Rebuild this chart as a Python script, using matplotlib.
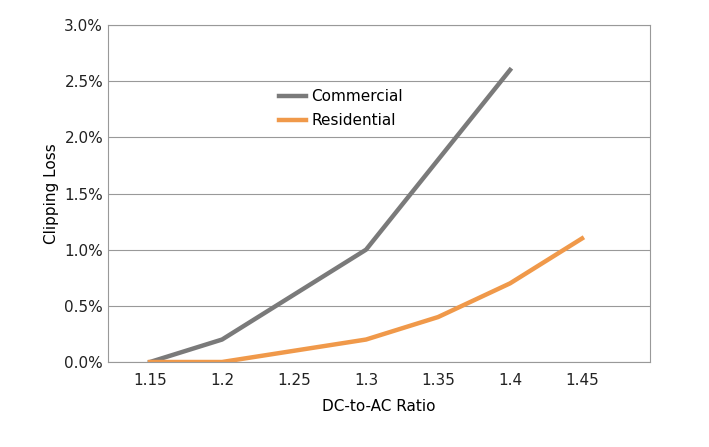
import matplotlib
matplotlib.use("Agg")
import matplotlib.pyplot as plt
from matplotlib.ticker import FuncFormatter

ratios = [1.15, 1.2, 1.25, 1.3, 1.35, 1.4, 1.45]
tick_labels = ["1.15", "1.2", "1.25", "1.3", "1.35", "1.4", "1.45"]
commercial = [0.0, 0.2, 0.6, 1.0, 1.8, 2.6]
residential = [0.0, 0.0, 0.1, 0.2, 0.4, 0.7, 1.1]

fig = plt.figure(figsize=(7.09, 4.47), dpi=100)
ax = fig.add_axes([108/709, 1-362/447, (650-108)/709, (362-25)/447])
ax.plot(ratios[:len(commercial)], commercial, color="#7a7a7a", lw=3.2, label="Commercial")
ax.plot(ratios, residential, color="#f0994a", lw=3.2, label="Residential")
ax.set_xlim(1.1208, 1.4972)
ax.set_ylim(0, 3.0)
ax.set_yticks([i*0.5 for i in range(7)])
ax.yaxis.set_major_formatter(FuncFormatter(lambda v, p: f"{v:.1f}%"))
ax.set_xticks(ratios)
ax.set_xticklabels(tick_labels)
ax.grid(axis="y", color="#999999", lw=0.8)
ax.set_axisbelow(True)
for s in ax.spines.values():
    s.set_color("#999999")
ax.tick_params(axis="y", length=0, labelsize=11, colors="#222222")
ax.tick_params(axis="x", length=0, labelsize=11, colors="#222222", pad=8)
ax.set_xlabel("DC-to-AC Ratio", fontsize=11, labelpad=8)
ax.set_ylabel("Clipping Loss", fontsize=11)
ax.legend(loc="upper left", bbox_to_anchor=(0.29, 0.85), frameon=False,
          fontsize=11, handlelength=1.8, labelspacing=0.6, handletextpad=0.3)
fig.savefig("out.png", dpi=100)
